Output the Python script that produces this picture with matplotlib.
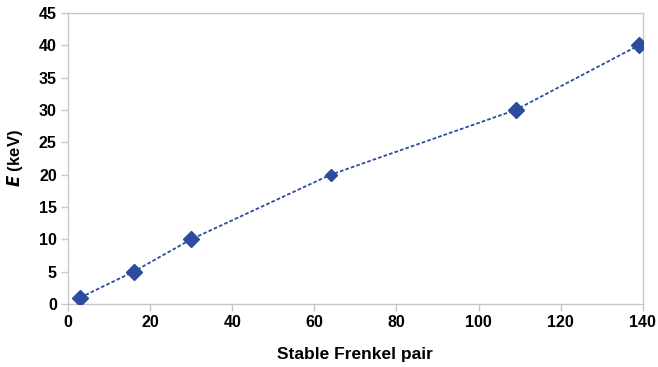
import matplotlib
matplotlib.use('Agg')
import matplotlib.pyplot as plt

# Frenkel pairs vs recoil energy
frenkel_pairs = [3, 16, 30, 64, 109, 139]
energy_kev = [1, 5, 10, 20, 30, 40]
marker_sizes = [8, 8, 8, 6, 8, 8]

x_ticks = [0, 20, 40, 60, 80, 100, 120, 140]
y_ticks = [0, 5, 10, 15, 20, 25, 30, 35, 40, 45]

plt.rcParams['font.family'] = ['Liberation Sans', 'DejaVu Sans']

fig = plt.figure(figsize=(6.58, 3.67), dpi=100)
ax = fig.add_axes([0.1033, 0.1717, 0.8737, 0.7929])

blue = '#2E4C9E'
ax.plot(frenkel_pairs, energy_kev, linestyle=(0, (2, 1.2)), color=blue, linewidth=1.3, zorder=2)
for x, y, s in zip(frenkel_pairs, energy_kev, marker_sizes):
    ax.plot(x, y, marker='D', markersize=s, color=blue, linestyle='none', zorder=3)

ax.set_xlim(0, 140)
ax.set_ylim(0, 45)
ax.set_xticks(x_ticks)
ax.set_yticks(y_ticks)

for side in ax.spines.values():
    side.set_color('#c8c8c8')
    side.set_linewidth(1.0)
ax.tick_params(axis='both', direction='out', length=5, width=1.0, color='#c8c8c8',
               labelsize=11.5, pad=3)
for lbl in ax.get_xticklabels() + ax.get_yticklabels():
    lbl.set_fontweight('bold')

ax.set_xlabel('Stable Frenkel pair', fontsize=12.5, fontweight='bold', labelpad=12)
ax.set_ylabel(r'$\boldsymbol{E}$ (keV)', fontsize=12, fontweight='bold', labelpad=10)

fig.savefig('out.png', dpi=100)
